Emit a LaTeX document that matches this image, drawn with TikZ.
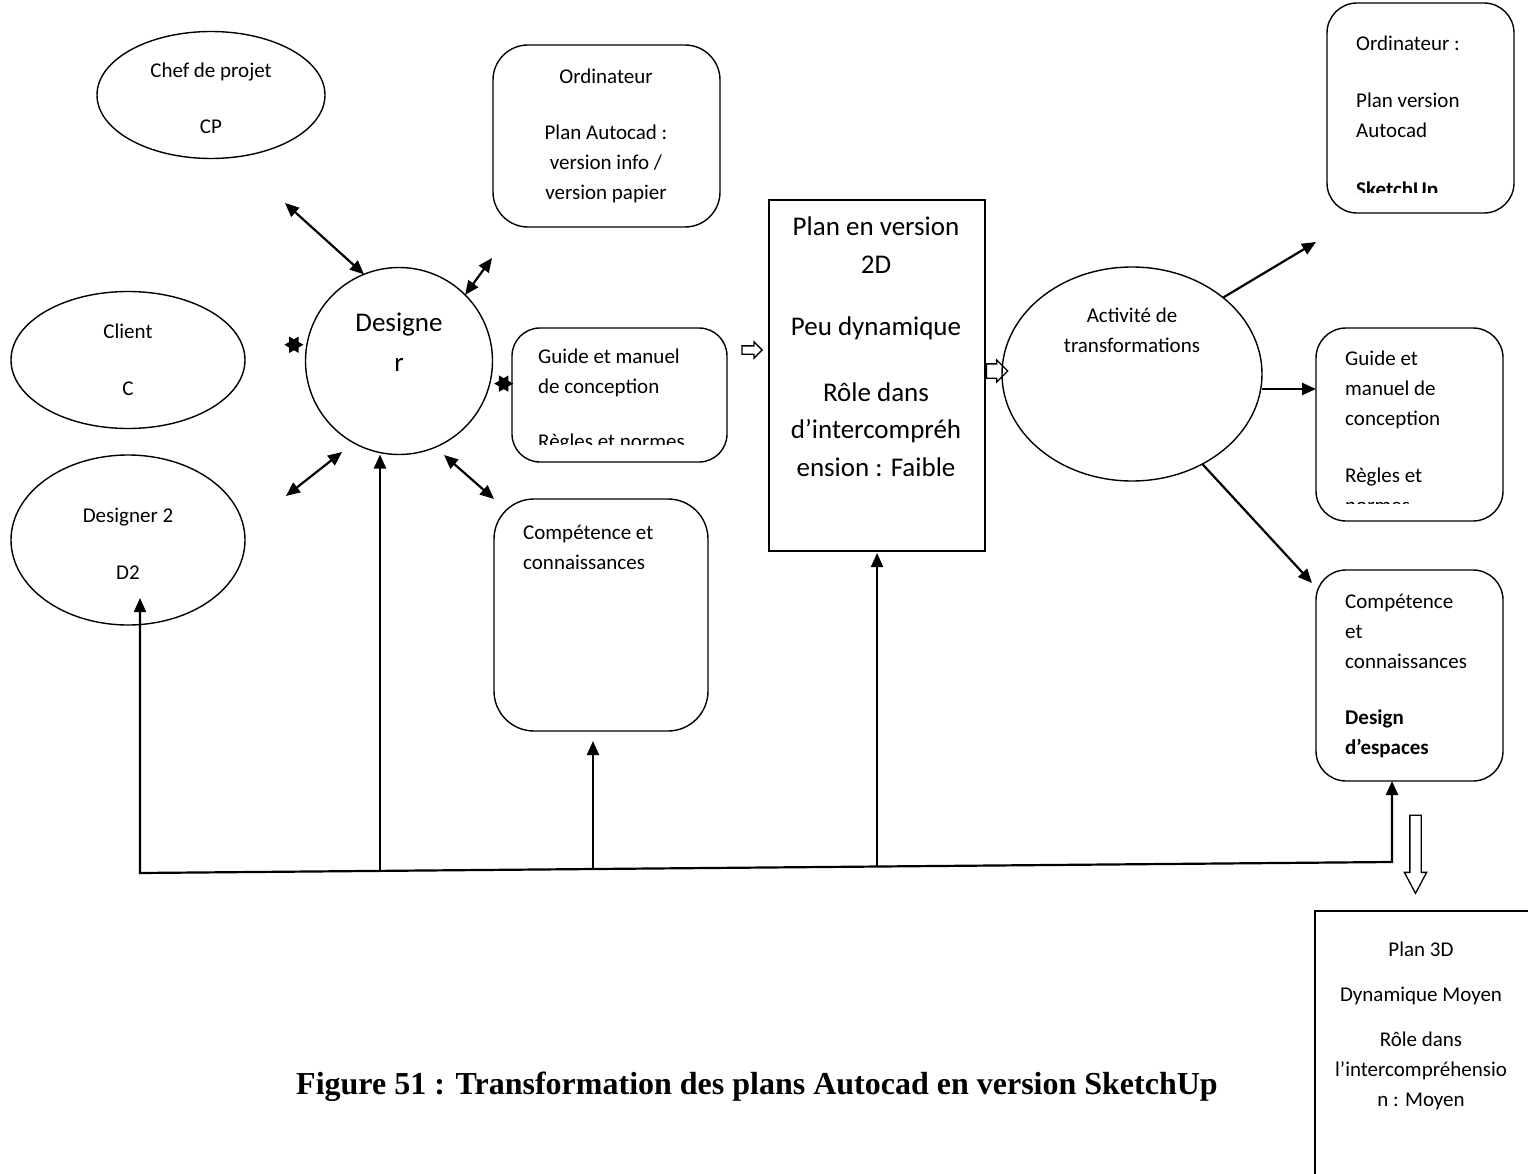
\documentclass[tikz,border=0pt]{standalone}
\usepackage{fontspec}
\setmainfont{Carlito}
\newfontfamily\capfont{Liberation Serif}
\usepackage{tikz}
\usetikzlibrary{
	arrows.meta,
	shapes.geometric,
	shapes.arrows,
	positioning
}

\tikzset{
	persona/.style={ellipse, draw, line width=1.4pt, inner sep=0pt, outer sep=0pt},
	roundbox/.style={draw, rounded corners=#1, line width=1.4pt, inner sep=0pt, outer sep=0pt},
	roundbox/.default=30pt,
	sharpbox/.style={draw, line width=1.4pt, inner sep=0pt, outer sep=0pt},
	lbl/.style={font=\fontsize{21}{30}\selectfont, inner sep=0pt},
	biglbl/.style={inner sep=0pt, align=center, anchor=north},
	link/.style={line width=2.2pt, -{Triangle[length=14pt,width=12pt]}},
	duo/.style={line width=2.2pt, {Triangle[length=14pt,width=12pt]}-{Triangle[length=14pt,width=12pt]}},
	hollow/.style={single arrow, draw, line width=1.3pt, outer sep=0pt}
}

\begin{document}
\begin{tikzpicture}[x=1pt, y=-1pt]
		\useasboundingbox (0,0) rectangle (1528,1174);
		% actors
		\node[persona, minimum width=228pt, minimum height=127pt] (cp) at (211,95) {};
		\node[persona, minimum width=234pt, minimum height=137pt] (cli) at (128,360) {};
		\node[persona, minimum width=234pt, minimum height=170pt] (dtwo) at (128,540) {};
		\node[circle, draw, line width=1.4pt, inner sep=0pt, outer sep=0pt, minimum size=187pt] (des) at (399,361) {};
		\node[lbl, align=center, anchor=north] (cptxt) at (211,63) {Chef de projet\\[26pt]CP};
		\node[lbl, align=center, anchor=north] (clitxt) at (128,324) {Client\\[27pt]C};
		\node[lbl, align=center, anchor=north] (dtwotxt) at (128,508) {Designer 2\\[27pt]D2};
		\node[biglbl, font=\fontsize{27}{40}\selectfont] (destxt) at (399,313) {Designe\\r};
		% resources of the designer
		\node[roundbox=35pt, minimum width=227pt, minimum height=182pt] (ord) at (606.5,136) {};
		\node[roundbox=28pt, minimum width=215pt, minimum height=134pt] (guide) at (619.5,395) {};
		\node[roundbox=40pt, minimum width=214pt, minimum height=232pt] (comp) at (601,615) {};
		\node[lbl, align=center, anchor=north] (ordtxt) at (606,69) {Ordinateur\\[26pt]Plan Autocad :\\version info /\\version papier};
		\begin{scope}
			\clip (512,328) rectangle (727,444);
			\node[lbl, align=left, anchor=north west] (guidetxt) at (538,349) {Guide et manuel\\de conception\\[25pt]Règles et normes};
		\end{scope}
		\node[lbl, align=left, anchor=north west] (comptxt) at (523,525) {Compétence et\\connaissances};
		% plan 2D
		\node[sharpbox, minimum width=216pt, minimum height=351pt] (plan) at (877,375.5) {};
		\node[biglbl, font=\fontsize{27}{37.5}\selectfont] (plantxt) at (876,217) {Plan en version\\2D\\[25pt]Peu dynamique\\[28pt]Rôle dans\\d’intercompréh\\ension : Faible};
		% transformation
		\node[persona, minimum width=260pt, minimum height=214pt] (act) at (1132,374) {};
		\node[lbl, align=center, anchor=north] (acttxt) at (1132,308) {Activité de\\transformations};
		\node[roundbox, minimum width=187pt, minimum height=210pt] (rord) at (1420.5,108) {};
		\node[roundbox, minimum width=187pt, minimum height=193pt] (rguide) at (1409.5,424.5) {};
		\node[roundbox, minimum width=187pt, minimum height=211pt] (rcomp) at (1409.5,675.5) {};
		\begin{scope}
			\clip (1327,3) rectangle (1514,193);
			\node[lbl, align=left, anchor=north west] (rordtxt) at (1356,36) {Ordinateur :\\[27pt]Plan version\\Autocad\\[29pt]\textbf{SketchUp}};
		\end{scope}
		\begin{scope}
			\clip (1316,328) rectangle (1503,503);
			\node[lbl, align=left, anchor=north west] (rguidetxt) at (1345,351) {Guide et\\manuel de\\conception\\[27pt]Règles et\\normes};
		\end{scope}
		\node[lbl, align=left, anchor=north west] (rcomptxt) at (1345,594) {Compétence\\et\\connaissances\\[26pt]\textbf{Design}\\\textbf{d’espaces}};
		% plan 3D
		\node[sharpbox, minimum width=225pt, minimum height=280pt] (three) at (1427.5,1051) {};
		\node[lbl, align=center, anchor=north] (threetxt) at (1421,942) {Plan 3D\\[15pt]Dynamique Moyen\\[15pt]Rôle dans\\l’intercompréhensio\\n : Moyen};
		% links around the designer
		\coordinate (cptip) at (285,203);
		\coordinate (ordtip) at (492,258);
		\coordinate (dtwotip) at (286,496);
		\coordinate (desdl) at (342,452);
		\coordinate (desdr) at (444,455);
		\coordinate (clistar) at ([xshift=-13pt]des.170);
		\coordinate (guidestar) at ([xshift=14pt]des.-14);
		\draw[duo] (cptip) -- (des.112);
		\draw[duo] (des.45) -- (ordtip);
		\fill (clistar) +(-9.5,0) -- +(4.75,8.2) -- +(4.75,-8.2) -- cycle;
		\fill (clistar) +(9.5,0) -- +(-4.75,8.2) -- +(-4.75,-8.2) -- cycle;
		\fill (guidestar) +(-9.5,0) -- +(4.75,8.2) -- +(4.75,-8.2) -- cycle;
		\fill (guidestar) +(9.5,0) -- +(-4.75,8.2) -- +(-4.75,-8.2) -- cycle;
		\draw[duo] (dtwotip) -- (desdl);
		\draw[duo] (desdr) -- (comp.north west);
		% block arrows
		\node[hollow, minimum height=20pt, minimum width=15pt, inner sep=3.5pt, single arrow head extend=4pt] (hguide) at (750,350) {};
		\node[hollow, minimum height=19pt, minimum width=21pt, inner sep=6.5pt, single arrow head extend=4pt] (hplan) at (993.5,371) {};
		\node[hollow, shape border rotate=270, minimum height=78pt, minimum width=21pt, inner sep=5pt, single arrow head extend=5.5pt, single arrow tip angle=56] (hdown) at (1415.5,849) {};
		% links from the transformation
		\coordinate (rordtip) at (1316,242);
		\coordinate (rcomptip) at (1312,583);
		\draw[link] (act.40) -- (rordtip);
		\draw[link] ([yshift=-15pt]act.east) -- ([yshift=-15pt]act.east -| rguide.west);
		\draw[link] (act.-52) -- (rcomptip);
		% feedback line
		\coordinate (bl) at (140,873);
		\coordinate (br) at (1392,862);
		\coordinate (dtwoin) at (140,598);
		\draw[duo] (dtwoin) -- (bl) -- (br) -- (br |- rcomp.south);
		\path (bl) -- (br) coordinate[pos=0.1917] (bdes) coordinate[pos=0.3618] (bcomp) coordinate[pos=0.5887] (bplan);
		\draw[link] (bdes) -- (bdes |- des.south);
		\draw[link, shorten >=10pt] (bcomp) -- (bcomp |- comp.south);
		\draw[link, shorten >=2pt] (bplan) -- (bplan |- plan.south);
		% caption
		\node[font=\capfont\bfseries\fontsize{32}{38}\selectfont, inner sep=0pt] (cap) at (757,1087) {Figure 51 : Transformation des plans Autocad en version SketchUp};
	\end{tikzpicture}
\end{document}
